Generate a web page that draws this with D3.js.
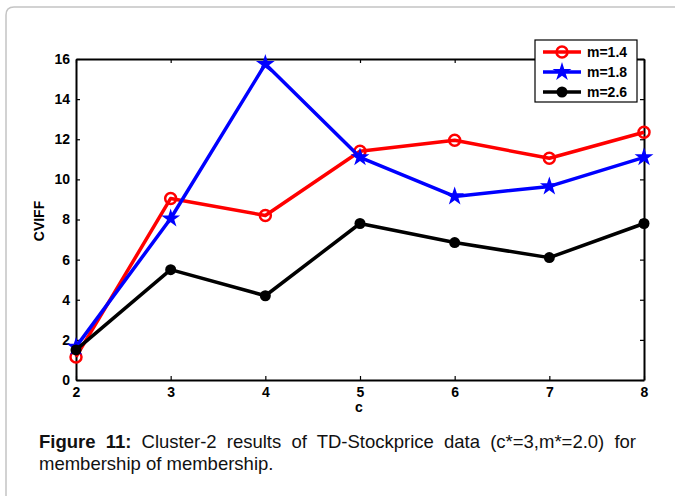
<html>
<script src='https://d3js.org/d3.v7.min.js'></script>
<style>
body {margin:0; background:#fff;}
.tick text {font-family:'Liberation Sans',Arial,sans-serif; font-weight:bold; font-size:14px;}
.lbl {font-family:'Liberation Sans',Arial,sans-serif; font-weight:bold; font-size:14px;}
#cap {position:absolute; left:39px; top:431px; width:597px; font-family:'Liberation Sans',Arial,sans-serif;
  font-size:18.5px; line-height:22px; text-align:justify; color:#111;}
</style>
<body onload='init()'>
<svg width=675 height=496></svg>
<div id='cap'><b>Figure 11:</b> Cluster-2 results of TD-Stockprice data (c*=3,m*=2.0) for membership of membership.</div>
<script>
var cs = [2,3,4,5,6,7,8];
var m14 = [1.15,9.05,8.2,11.4,11.95,11.05,12.35];
var m18 = [1.65,8.05,15.75,11.1,9.15,9.65,11.1];
var m26 = [1.5,5.5,4.2,7.8,6.85,6.1,7.8];
var yTicks = [0,2,4,6,8,10,12,14,16];
var names = ['m=1.4','m=1.8','m=2.6'];

function init() {
var svg = d3.select('svg');

// page frame
svg.append('path')
  .attr('d','M6,496 L6,15 Q6,7 14,7 L675,7')
  .attr('fill','none').attr('stroke','#c4c4c4').attr('stroke-width',1.5);

var xs = d3.scaleLinear().domain([2,8]).range([76,644]);
var ys = d3.scaleLinear().domain([0,16]).range([380,59]);

// axes with inward ticks, mirrored on top and right
svg.append('g').attr('transform','translate(0,380)')
  .call(d3.axisBottom(xs).tickValues(cs).tickSizeInner(-4).tickSizeOuter(0).tickPadding(7).tickFormat(d3.format('d')));
svg.append('g').attr('transform','translate(76,0)')
  .call(d3.axisLeft(ys).tickValues(yTicks).tickSizeInner(-4).tickSizeOuter(0).tickPadding(6));
svg.append('g').attr('transform','translate(0,59)')
  .call(d3.axisTop(xs).tickValues(cs).tickSizeInner(-4).tickSizeOuter(0).tickFormat(''));
svg.append('g').attr('transform','translate(644,0)')
  .call(d3.axisRight(ys).tickValues(yTicks).tickSizeInner(-4).tickSizeOuter(0).tickFormat(''));
svg.selectAll('.domain').attr('stroke','#000').attr('stroke-width',2);
svg.selectAll('.tick line').attr('stroke','#000').attr('stroke-width',1.2);
svg.selectAll('.tick text').attr('fill','#000');

svg.append('text').attr('class','lbl').attr('x',359).attr('y',412).attr('text-anchor','middle').text('c');
svg.append('text').attr('class','lbl').attr('transform','translate(44,221) rotate(-90)')
  .attr('text-anchor','middle').text('CVIFF');

var series = [
  {name:names[0], vals:m14, color:'#ff0000', mark:'circle'},
  {name:names[1], vals:m18, color:'#0000ff', mark:'star'},
  {name:names[2], vals:m26, color:'#000000', mark:'dot'}
];

var line = d3.line().x(function(d,i){return xs(cs[i]);}).y(function(d){return ys(d);});
var star = d3.symbol().type(d3.symbolStar).size(110);

function marker(g, s, x, y) {
  if (s.mark == 'circle') {
    g.append('circle').attr('cx',x).attr('cy',y).attr('r',5.5)
      .attr('fill','none').attr('stroke',s.color).attr('stroke-width',2.5);
  } else if (s.mark == 'star') {
    g.append('path').attr('d',star()).attr('transform','translate('+x+','+y+')').attr('fill',s.color);
  } else {
    g.append('circle').attr('cx',x).attr('cy',y).attr('r',5.5).attr('fill',s.color);
  }
}

series.forEach(function(s) {
  var g = svg.append('g');
  g.append('path').attr('d',line(s.vals)).attr('fill','none')
    .attr('stroke',s.color).attr('stroke-width',3.5).attr('stroke-linejoin','round');
  s.vals.forEach(function(v,i){ marker(g, s, xs(cs[i]), ys(v)); });
});

// legend
var lg = svg.append('g');
lg.append('rect').attr('x',535).attr('y',40).attr('width',102).attr('height',62)
  .attr('fill','#fff').attr('stroke','#000').attr('stroke-width',1.2);
series.forEach(function(s,i) {
  var y = 52 + i*20;
  lg.append('line').attr('x1',543).attr('x2',581).attr('y1',y).attr('y2',y)
    .attr('stroke',s.color).attr('stroke-width',3.5);
  marker(lg, s, 562, y);
  lg.append('text').attr('class','lbl').attr('x',587).attr('y',y+5).text(s.name);
});
}
</script>
</body>
</html>
